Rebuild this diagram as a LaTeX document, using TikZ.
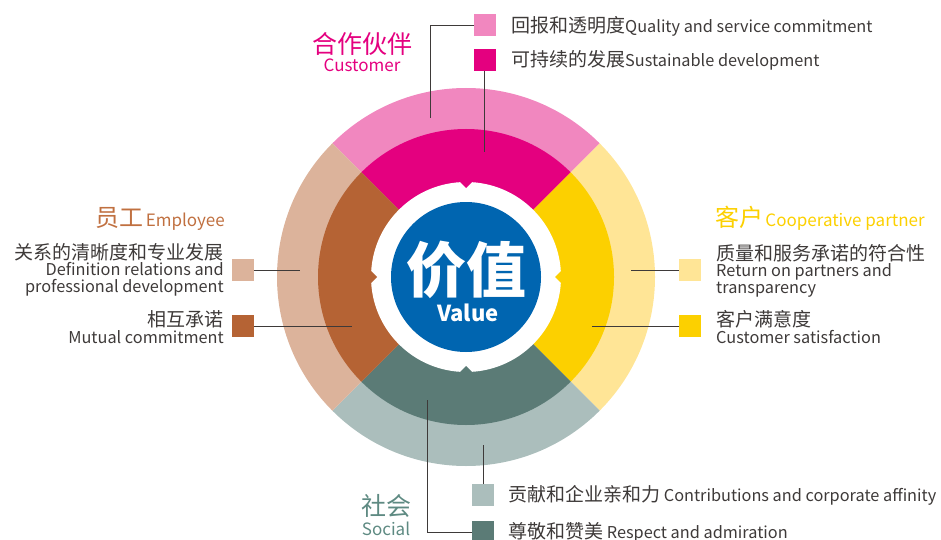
\documentclass[tikz,border=0pt]{standalone}
\usepackage{fontspec}
\setmainfont{Noto Sans CJK SC}
\usetikzlibrary{positioning}

\definecolor{pinkL}{RGB}{241,135,191}
\definecolor{pinkD}{RGB}{228,0,127}
\definecolor{yellowL}{RGB}{255,229,150}
\definecolor{yellowD}{RGB}{252,208,0}
\definecolor{tealL}{RGB}{171,190,188}
\definecolor{tealD}{RGB}{91,123,118}
\definecolor{tanL}{RGB}{220,179,155}
\definecolor{brownD}{RGB}{181,99,52}
\definecolor{valueblue}{RGB}{0,101,176}
\definecolor{txt}{RGB}{62,58,57}
\definecolor{empC}{RGB}{192,112,64}
\definecolor{socC}{RGB}{94,138,130}

\newcommand{\zh}[1]{{\fontsize{19}{19}\selectfont #1}}

\begin{document}
\begin{tikzpicture}[
    x=1pt, y=-1pt,
    sq/.style={rectangle, minimum size=21.5pt, inner sep=0pt},
    link/.style={draw=txt, line width=0.8pt},
    lbl/.style={font=\fontsize{16.3}{16.5}\selectfont, text=txt, inner sep=0pt},
    head/.style={font=\fontsize{25}{25}\selectfont, inner sep=0pt},
    headen/.style={font=\fontsize{17}{17}\selectfont, inner sep=0pt},
]
\useasboundingbox (0,0) rectangle (941,540);

% Ring
\begin{scope}[shift={(466,277)}]
  \fill[pinkL]   (0,0) -- (225:189) arc[start angle=225, end angle=315, radius=189] -- cycle;
  \fill[yellowL] (0,0) -- (-45:189) arc[start angle=-45, end angle=45, radius=189] -- cycle;
  \fill[tealL]   (0,0) -- (45:189) arc[start angle=45, end angle=135, radius=189] -- cycle;
  \fill[tanL]    (0,0) -- (135:189) arc[start angle=135, end angle=225, radius=189] -- cycle;
  \fill[pinkD]   (0,0) -- (225:148) arc[start angle=225, end angle=315, radius=148] -- cycle;
  \fill[yellowD] (0,0) -- (-45:148) arc[start angle=-45, end angle=45, radius=148] -- cycle;
  \fill[tealD]   (0,0) -- (45:148) arc[start angle=45, end angle=135, radius=148] -- cycle;
  \fill[brownD]  (0,0) -- (135:148) arc[start angle=135, end angle=225, radius=148] -- cycle;
  \fill[white] (0,0) circle[radius=95];
  % notches
  \fill[pinkD]   (-8,-97) -- (8,-97) -- (0,-89) -- cycle;
  \fill[tealD]   (-8,97) -- (8,97) -- (0,89) -- cycle;
  \fill[brownD]  (-97,-8) -- (-97,8) -- (-89,0) -- cycle;
  \fill[yellowD] (97,-8) -- (97,8) -- (89,0) -- cycle;
\end{scope}

% Centre
\node[circle, fill=valueblue, minimum size=150pt, inner sep=0pt] (value) at (466,277) {};
\node[font=\fontsize{60}{60}\selectfont\bfseries, text=white, inner sep=0pt] (value-zh) at (466,270) {价值};
\node[font=\fontsize{22}{22}\selectfont\bfseries, text=white, inner sep=0pt] (value-en) at (468,313) {Value};

% Customer
\node[head, text=pinkD] (cust) at (362,44) {合作伙伴};
\node[headen, text=pinkD, anchor=base] (cust-en) at (362,72) {Customer};
\node[sq, fill=pinkL] (quality) at (485,25) {};
\node[sq, fill=pinkD] (sustain) at (485,60) {};
\node[lbl, anchor=west] (quality-t) at (511,26) {\zh{回报和透明度}Quality and service commitment};
\node[lbl, anchor=west] (sustain-t) at (511,60) {\zh{可持续的发展}Sustainable development};
\coordinate (quality-in) at (430,118);
\coordinate (sustain-in) at (484,152);
\draw[link] (quality.west) -| (quality-in);
\draw[link] (sustain.south -| sustain-in) -- (sustain-in);

% Employee
\node[text=empC, anchor=base east, inner sep=0pt] (emp) at (225,226)
  {{\fontsize{24}{24}\selectfont 员工} {\fontsize{17}{17}\selectfont Employee}};
\node[sq, fill=tanL] (clarity) at (243,270) {};
\node[sq, fill=brownD] (mutual) at (243,326) {};
\node[lbl, align=right, anchor=base east] (clarity-t) at (224,292)
  {\zh{关系的清晰度和专业发展}\\Definition relations and\\professional development};
\node[lbl, align=right, anchor=base east] (mutual-t) at (224,343)
  {\zh{相互承诺}\\Mutual commitment};
\coordinate (clarity-in) at (300,270);
\coordinate (mutual-in) at (352,326);
\draw[link] (clarity.east) -- (clarity-in);
\draw[link] (mutual.east) -- (mutual-in);

% Partner
\node[text=yellowD, anchor=base west, inner sep=0pt] (part) at (715,226)
  {{\fontsize{24}{24}\selectfont 客户} {\fontsize{17}{17}\selectfont Cooperative partner}};
\node[sq, fill=yellowL] (conform) at (690,270) {};
\node[sq, fill=yellowD] (satis) at (690,326) {};
\node[lbl, align=left, anchor=base west] (conform-t) at (716,293)
  {\zh{质量和服务承诺的符合性}\\Return on partners and\\transparency};
\node[lbl, align=left, anchor=base west] (satis-t) at (716,343)
  {\zh{客户满意度}\\Customer satisfaction};
\coordinate (conform-in) at (631,270);
\coordinate (satis-in) at (592,326);
\draw[link] (conform.west) -- (conform-in);
\draw[link] (satis.west) -- (satis-in);

% Social
\node[head, text=socC] (soc) at (386,506) {社会};
\node[headen, text=socC, anchor=base] (soc-en) at (386,535) {Social};
\node[sq, fill=tealL] (affinity) at (483,495) {};
\node[sq, fill=tealD] (respect) at (483,532) {};
\node[lbl, anchor=west] (affinity-t) at (508,495) {\zh{贡献和企业亲和力} Contributions and corporate affinity};
\node[lbl, anchor=west] (respect-t) at (508,532) {\zh{尊敬和赞美} Respect and admiration};
\coordinate (affinity-in) at (483,445);
\coordinate (respect-in) at (427,400);
\draw[link] (affinity.north) -- (affinity-in);
\draw[link] (respect.west) -| (respect-in);

\end{tikzpicture}
\end{document}
